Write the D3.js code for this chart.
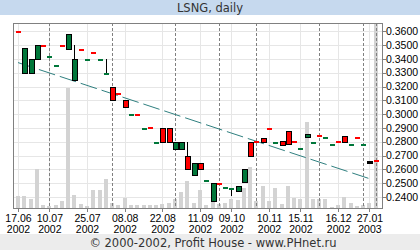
<!DOCTYPE html>
<html><head><meta charset="utf-8">
<script src="https://cdn.jsdelivr.net/npm/d3@7"></script>
<style>
html,body{margin:0;padding:0;background:#fff;}
svg{display:block;}
</style></head>
<body>
<svg id="c" width="420" height="250"></svg>
<script>
// ---- data ----
const openP  = [0.360,0.330,0.330,0.340,0.350,0.342,0.336,0.350,0.347,0.325,0.347,0.340,0.345,0.340,0.330,0.320,0.315,0.310,0.300,0.300,
                0.290,0.291,0.280,0.290,0.290,0.275,0.275,0.270,0.256,0.265,0.2525,0.237,0.250,0.2470,0.2467,0.2446,0.251,0.280,0.2808,0.2825,
                0.290,0.280,0.2808,0.2875,0.2803,0.2752,0.2834,0.280,0.2851,0.2834,0.2786,0.2803,0.2839,0.2786,0.2834,0.2786,0.2661,0.2668];
const closeP = [0.360,0.348,0.340,0.350,0.350,0.342,0.336,0.350,0.358,0.340,0.347,0.340,0.345,0.340,0.330,0.310,0.315,0.305,0.300,0.300,
                0.290,0.291,0.280,0.280,0.280,0.280,0.280,0.260,0.265,0.260,0.2525,0.250,0.250,0.2470,0.2467,0.2477,0.260,0.270,0.2808,0.2800,
                0.290,0.280,0.2780,0.2786,0.2803,0.2752,0.2853,0.280,0.2851,0.2834,0.2786,0.2803,0.2800,0.2786,0.2834,0.2786,0.2649,0.2668];
const highP  = [0.360,0.348,0.340,0.350,0.350,0.342,0.336,0.350,0.358,0.350,0.347,0.340,0.345,0.340,0.340,0.320,0.315,0.310,0.300,0.300,
                0.290,0.291,0.280,0.290,0.290,0.280,0.280,0.280,0.265,0.265,0.2525,0.250,0.250,0.2470,0.2467,0.2477,0.260,0.280,0.2808,0.2825,
                0.290,0.280,0.2808,0.2875,0.2803,0.2752,0.2853,0.280,0.2851,0.2834,0.2786,0.2803,0.2839,0.2786,0.2834,0.2786,0.2661,0.2668];
const lowP   = [0.360,0.330,0.330,0.340,0.350,0.342,0.336,0.350,0.347,0.325,0.347,0.340,0.345,0.340,0.330,0.310,0.315,0.305,0.300,0.300,
                0.290,0.291,0.280,0.280,0.280,0.275,0.275,0.260,0.256,0.260,0.2525,0.237,0.250,0.2470,0.2407,0.2446,0.251,0.270,0.2808,0.2800,
                0.290,0.280,0.2780,0.2786,0.2803,0.2752,0.2834,0.280,0.2851,0.2834,0.2786,0.2803,0.2800,0.2786,0.2834,0.2786,0.2649,0.2668];
const volume = [12,12,9,39,3,2.3,3,7,120,13,4,2,18,18,29,4.7,3,10,3,3,
                3,3,3,4,5.3,8.7,16,27,5.5,18,3,6,4.3,5.5,8.7,7.8,20,41,6.7,21.7,
                6.7,20,3.7,22,10,9,86,8.7,8.7,8.7,1.3,3.3,10.7,5.3,2,3,5.3,200];
const tickIdx   = [0,5,11,17,23,29,34,40,45,51,56];
const tickDates = ["17.06","10.07","25.07","08.08","22.08","11.09","09.10","10.11","15.11","16.12","27.01"];
const tickYears = ["2002","2002","2002","2002","2002","2002","2002","2002","2002","2002","2003"];
const monthStartIdx = [5,15,25,32,38,48,55,57];
const priceTicks = [0.24,0.25,0.26,0.27,0.28,0.29,0.30,0.31,0.32,0.33,0.34,0.35,0.36];
const trendIdx = [0,56];
const trendVal = [0.3374,0.2533];
const titleText = "LSNG, daily";
const footerText = "\u00A9 2000-2002, Profit House - www.PHnet.ru";

// ---- layout ----
const L=13, R=382, T=23, B=208;
const svg = d3.select("#c");
const xs = d3.scaleLinear().domain([0,57]).range([18,375.7]);
const ys = d3.scaleLinear().domain([0.24,0.36]).range([197,31.4]);
const yv = d3.scaleLinear().domain([0,185]).range([B,T]);
const n = openP.length;
const idx = d3.range(n);

// title & footer bars
svg.append("rect").attr("x",0).attr("y",0).attr("width",420).attr("height",15).attr("fill","#c6d9ee");
svg.append("text").attr("x",210).attr("y",11.5).attr("text-anchor","middle")
  .attr("font-family","DejaVu Sans").attr("font-size",11.5).attr("fill","#333").text(titleText);
svg.append("rect").attr("x",0).attr("y",234).attr("width",420).attr("height",16).attr("fill","#ececec");
svg.append("text").attr("x",213).attr("y",246.5).attr("text-anchor","middle")
  .attr("font-family","DejaVu Sans").attr("font-size",11.5).attr("fill","#333").text(footerText);

svg.append("clipPath").attr("id","plot").append("rect").attr("x",L).attr("y",T).attr("width",R-L).attr("height",B-T);
const g = svg.append("g").attr("clip-path","url(#plot)").attr("shape-rendering","crispEdges");

// grid
g.selectAll(".hg").data(priceTicks).join("line")
  .attr("x1",L).attr("x2",R).attr("y1",d=>Math.round(ys(d))+0.5).attr("y2",d=>Math.round(ys(d))+0.5)
  .attr("stroke","#e6e6e6").attr("stroke-width",1.5);
g.selectAll(".vg").data(tickIdx).join("line")
  .attr("x1",d=>Math.round(xs(d))+0.5).attr("x2",d=>Math.round(xs(d))+0.5).attr("y1",T).attr("y2",B)
  .attr("stroke","#e6e6e6").attr("stroke-width",1.5);

// volume
g.selectAll(".vol").data(idx).join("rect")
  .attr("x",i=>Math.round(xs(i))-2).attr("width",4)
  .attr("y",i=>yv(volume[i])).attr("height",i=>B-yv(volume[i]))
  .attr("fill","#d3d3d3");

// month separators
g.selectAll(".ms").data(monthStartIdx).join("line")
  .attr("x1",d=>Math.round(xs(d))+0.5).attr("x2",d=>Math.round(xs(d))+0.5).attr("y1",T).attr("y2",B)
  .attr("stroke","#808080").attr("stroke-dasharray","3,2");

// trend line
g.append("line")
  .attr("x1",xs(trendIdx[0])).attr("y1",ys(trendVal[0]))
  .attr("x2",xs(trendIdx[1])).attr("y2",ys(trendVal[1]))
  .attr("stroke","#2f7f7f").attr("stroke-width",1).attr("stroke-dasharray","17,5")
  .attr("shape-rendering","auto");

// wicks
const hasWick = idx.filter(i=>highP[i]>Math.max(openP[i],closeP[i])||lowP[i]<Math.min(openP[i],closeP[i]));
g.selectAll(".wick").data(hasWick).join("line")
  .attr("x1",i=>Math.round(xs(i))+0.5).attr("x2",i=>Math.round(xs(i))+0.5)
  .attr("y1",i=>ys(highP[i])).attr("y2",i=>ys(lowP[i]))
  .attr("stroke","#000");

// candles
const GREEN="#00773a", RED="#ff0000";
const bodies = idx.filter(i=>openP[i]!==closeP[i]);
const bTop = i=>Math.round(ys(Math.max(openP[i],closeP[i])));
const bH = i=>Math.max(1,Math.round(ys(Math.min(openP[i],closeP[i])))-bTop(i));
g.selectAll(".body").data(bodies).join("rect")
  .attr("x",i=>Math.round(xs(i))-2.5+0.5).attr("width",5)
  .attr("y",i=>bTop(i)+0.5)
  .attr("height",bH)
  .attr("fill",i=>bH(i)<=2?"#000":(closeP[i]>openP[i]?GREEN:RED)).attr("stroke","#000").attr("stroke-width",1);

// flat days (dash)
const flats = idx.filter(i=>openP[i]===closeP[i]);
g.selectAll(".dash").data(flats).join("rect")
  .attr("x",i=>Math.round(xs(i))-2).attr("width",5)
  .attr("y",i=>Math.round(ys(closeP[i]))).attr("height",1.5)
  .attr("fill",i=>(i===0||closeP[i]>=closeP[i-1])?RED:GREEN);

// frame
svg.append("rect").attr("x",L+0.5).attr("y",T+0.5).attr("width",R-L).attr("height",B-T)
  .attr("fill","none").attr("stroke","#808080").attr("shape-rendering","crispEdges");

// right axis
const ya = svg.append("g").attr("shape-rendering","crispEdges");
ya.selectAll("line").data(priceTicks).join("line")
  .attr("x1",R).attr("x2",R+4).attr("y1",d=>Math.round(ys(d))+0.5).attr("y2",d=>Math.round(ys(d))+0.5)
  .attr("stroke","#808080");
svg.selectAll(".yl").data(priceTicks).join("text")
  .attr("x",386).attr("y",d=>ys(d)+3.5)
  .attr("font-family","Liberation Sans, Arial").attr("font-size",10.5).attr("fill","#000")
  .text(d=>d3.format(".4f")(d));

// bottom axis
svg.selectAll(".xt").data(tickIdx).join("line")
  .attr("x1",d=>Math.round(xs(d))+0.5).attr("x2",d=>Math.round(xs(d))+0.5).attr("y1",B).attr("y2",B+4)
  .attr("stroke","#808080").attr("shape-rendering","crispEdges");
svg.selectAll(".xl1").data(tickIdx).join("text")
  .attr("x",d=>xs(d)+0.5).attr("y",221.5).attr("text-anchor","middle")
  .attr("font-family","Liberation Sans, Arial").attr("font-size",10.5).attr("fill","#000")
  .text((d,i)=>tickDates[i]);
svg.selectAll(".xl2").data(tickIdx).join("text")
  .attr("x",d=>xs(d)+0.5).attr("y",233).attr("text-anchor","middle")
  .attr("font-family","Liberation Sans, Arial").attr("font-size",10.5).attr("fill","#000")
  .text((d,i)=>tickYears[i]);
</script>
</body></html>
